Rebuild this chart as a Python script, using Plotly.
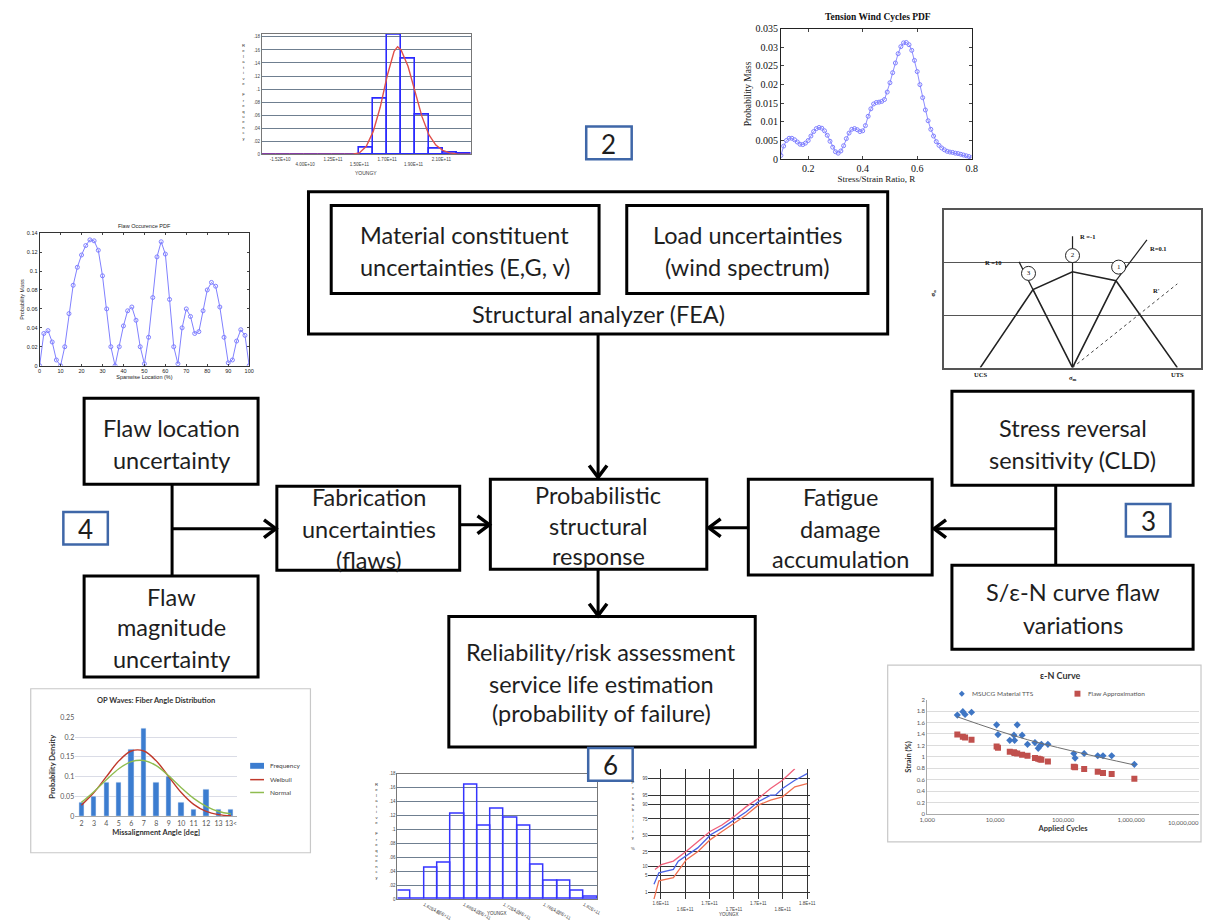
import plotly.graph_objects as go
from statistics import NormalDist

W, H = 1208, 922

# ======================= DATA =======================
# (A) Young's modulus histogram (top-left inset)
young_bin = [0.5, 1.5, 2.5, 3.5, 4.5, 5.5, 6.5, 7.5, 8.5, 9.5, 10.5, 11.5, 12.5, 13.5, 14.5]
young_freq = [0, 0, 0, 0, 0, 0, 0, 0.0105, 0.085, 0.183, 0.1465, 0.06, 0.009, 0.003, 0.0015]
young_fit_x = [0, 6.5, 7, 7.5, 8, 8.5, 9, 9.5, 9.75, 10, 10.5, 11, 11.5, 12, 12.5, 13, 13.5, 14, 15]
young_fit_y = [0, 0, 0.002, 0.012, 0.035, 0.072, 0.12, 0.158, 0.165, 0.16, 0.135, 0.095, 0.058,
               0.03, 0.014, 0.006, 0.002, 0.0005, 0]
young_tickvals = [1.3, 3.1, 5.1, 7.0, 9.0, 10.9, 12.9]
young_ticktext = ["-1.52E+10", "<br>4.00E+10", "1.25E+11", "<br>1.50E+11", "1.70E+11", "<br>1.90E+11", "2.10E+11"]
young_yvals = [0, 0.02, 0.04, 0.06, 0.08, 0.10, 0.12, 0.14, 0.16, 0.18]
young_ylabels = ["0", ".02", ".04", ".06", ".08", ".1", ".12", ".14", ".16", ".18"]

# (B) Tension wind cycles PDF (top-right inset)
wind_R = [0.10, 0.11, 0.12, 0.13, 0.14, 0.15, 0.16, 0.17, 0.18, 0.19, 0.20, 0.21, 0.22, 0.23, 0.24,
          0.25, 0.26, 0.27, 0.28, 0.29, 0.30, 0.31, 0.32, 0.33, 0.34, 0.35, 0.36, 0.37, 0.38, 0.39,
          0.40, 0.41, 0.42, 0.43, 0.44, 0.45, 0.46, 0.47, 0.48, 0.49, 0.50, 0.51, 0.52, 0.53, 0.54,
          0.55, 0.56, 0.57, 0.58, 0.59, 0.60, 0.61, 0.62, 0.63, 0.64, 0.65, 0.66, 0.67, 0.68, 0.69,
          0.70, 0.71, 0.72, 0.73, 0.74, 0.75, 0.76, 0.77, 0.78, 0.79, 0.80]
wind_P = [0.0010, 0.0035, 0.0050, 0.0056, 0.0056, 0.0052, 0.0046, 0.0040, 0.0039, 0.0043, 0.0050,
          0.0062, 0.0074, 0.0082, 0.0085, 0.0083, 0.0076, 0.0064, 0.0048, 0.0032, 0.0020, 0.0016,
          0.0022, 0.0036, 0.0055, 0.0070, 0.0080, 0.0082, 0.0079, 0.0074, 0.0076, 0.0090, 0.0115,
          0.0135, 0.0148, 0.0152, 0.0153, 0.0155, 0.0160, 0.0180, 0.0205, 0.0232, 0.0258, 0.0283,
          0.0302, 0.0312, 0.0313, 0.0307, 0.0292, 0.0265, 0.0235, 0.0200, 0.0165, 0.0132, 0.0103,
          0.0080, 0.0062, 0.0047, 0.0037, 0.0030, 0.0025, 0.0021, 0.0019, 0.0018, 0.0016, 0.0015,
          0.0013, 0.0011, 0.0009, 0.0007, 0.0004]
wind_yvals = [0, 0.005, 0.01, 0.015, 0.02, 0.025, 0.03, 0.035]
wind_ylabels = ["0", "0.005", "0.01", "0.015", "0.02", "0.025", "0.03", "0.035"]

# (C) Flaw occurrence PDF (left inset)
flaw_loc = [0, 2, 4, 6, 8, 10, 12, 14, 16, 18, 20, 22, 24, 26, 28, 30, 32, 34, 36, 38, 40, 42, 44,
            46, 48, 50, 52, 54, 56, 58, 60, 62, 64, 66, 68, 70, 72, 74, 76, 78, 80, 82, 84, 86, 88,
            90, 92, 94, 96, 98, 100]
flaw_pm = [0.000, 0.034, 0.037, 0.025, 0.006, 0.000, 0.020, 0.055, 0.085, 0.104, 0.117, 0.127, 0.133,
           0.132, 0.122, 0.095, 0.060, 0.020, 0.000, 0.020, 0.042, 0.058, 0.062, 0.048, 0.020, 0.002,
           0.030, 0.072, 0.115, 0.131, 0.118, 0.070, 0.020, 0.002, 0.040, 0.060, 0.052, 0.034, 0.036,
           0.058, 0.080, 0.088, 0.084, 0.062, 0.030, 0.003, 0.006, 0.026, 0.038, 0.032, 0.000]
flaw_yvals = [0, 0.02, 0.04, 0.06, 0.08, 0.10, 0.12, 0.14]
flaw_ylabels = ["0", "0.02", "0.04", "0.06", "0.08", "0.1", "0.12", "0.14"]

# (D) Constant life diagram (right inset), normalised stress units
cld_ucs = -0.88
cld_uts = 1.0
cld_mean = [-0.377, 0.0, 0.415]          # points 3, 2, 1
cld_amp = [0.745, 0.915, 0.83]
cld_labels = ["3", "2", "1"]
cld_circle_m = [-0.42, 0.0, 0.44]
cld_circle_a = [0.90, 1.07, 0.96]
ray_end_m = [-0.51, 0.0, 0.71]
ray_end_a = [1.01, 1.255, 1.22]
rprime_end = [1.0, 0.80]

# (E) OP waves fiber angle distribution
op_angle = ["2", "3", "4", "5", "6", "7", "8", "9", "10", "11", "12", "13", "13<"]
op_freq = [0.034, 0.05, 0.085, 0.085, 0.17, 0.222, 0.085, 0.10, 0.034, 0.017, 0.068, 0.017, 0.017]
op_weibull = [0.028, 0.06, 0.10, 0.14, 0.165, 0.165, 0.14, 0.10, 0.06, 0.03, 0.012, 0.004, 0.001]
op_normal = [0.035, 0.062, 0.092, 0.12, 0.138, 0.141, 0.128, 0.102, 0.072, 0.045, 0.025, 0.012, 0.006]

# (F) e-N curve
en_cycles = [2773, 3342, 3607, 4487, 10500, 11000, 16400, 18900, 19300, 21100, 24900, 29900,
             38500, 43000, 45400, 47900, 59700, 143600, 150000, 204000, 323000, 386000, 518000, 1117000]
en_msucg = [1.73, 1.79, 1.74, 1.78, 1.56, 1.39, 1.29, 1.38, 1.29, 1.56, 1.38, 1.22,
            1.25, 1.15, 1.19, 1.22, 1.22, 1.06, 0.98, 1.06, 1.02, 1.02, 1.02, 0.87]
en_flaw = [1.39, 1.35, 1.34, 1.30, 1.18, 1.16, 1.09, 1.08, 1.07, 1.06, 1.04, 1.02,
           0.98, 0.97, 0.96, 0.95, 0.92, 0.83, 0.82, 0.79, 0.74, 0.72, 0.70, 0.62]
en_trend_cycles = [2773, 30000, 1117000]
en_trend_strain = [1.70, 1.30, 0.86]
en_xticks = [1e3, 1e4, 1e5, 1e6, 1e7]
en_xlabels = ["1,000", "10,000", "100,000", "1,000,000", "10,000,000"]
en_yvals = [0, 0.2, 0.4, 0.6, 0.8, 1.0, 1.2, 1.4, 1.6, 1.8, 2.0]
en_ylabels = ["0", "0.2", "0.4", "0.6", "0.8", "1", "1.2", "1.4", "1.6", "1.8", "2"]

# (G) bottom histogram
hist2_bin = [0.5, 1.5, 2.5, 3.5, 4.5, 5.5, 6.5, 7.5, 8.5, 9.5, 10.5, 11.5, 12.5, 13.5, 14.5]
hist2_freq = [0.012, 0, 0.045, 0.053, 0.123, 0.164, 0.105, 0.13, 0.117, 0.105, 0.049, 0.027, 0.027, 0.012, 0.004]
hist2_tickvals = [2.0, 3.0, 5.0, 6.0, 8.0, 9.0, 11.0, 12.0, 14.0]
hist2_ticktext = ["1.62E+11", "<br>1.65E+11", "1.68E+11", "<br>1.70E+11", "1.72E+11",
                  "<br>1.74E+11", "1.76E+11", "<br>1.78E+11", "1.82E+11"]

# (H) probability plot
prob_levels = [1, 5, 10, 25, 50, 75, 90, 95, 99]
pp_blue_x = [0.45, 0.85, 2.04, 2.44, 4.03, 5.09, 6.02, 7.0, 8.01, 8.99, 10.0, 10.4, 10.98, 11.99, 13.0]
pp_blue_z = [-2.0, -1.53, -1.39, -1.05, -0.51, 0.03, 0.30, 0.64, 0.97, 1.38, 1.65, 1.65, 1.92, 2.26, 2.53]
pp_up_x = [0.53, 1.06, 2.04, 3.1, 4.08, 5.04, 6.02, 7.0, 8.01, 8.99, 10.0, 10.98, 11.99]
pp_up_z = [-1.39, -1.19, -1.05, -0.65, -0.24, 0.16, 0.43, 0.77, 1.18, 1.51, 1.92, 2.26, 2.73]
pp_lo_x = [0.45, 0.85, 2.04, 3.1, 4.08, 5.04, 6.02, 7.0, 8.01, 8.99, 10.0, 10.98, 11.99, 13.0]
pp_lo_z = [-2.61, -1.86, -1.73, -0.99, -0.65, -0.18, 0.16, 0.5, 0.84, 1.24, 1.45, 1.58, 1.99, 2.12]

# ======================= FIGURE =======================
fig = go.Figure()
ann = []
shapes = []
layout = {}


def dx(a, b):
    return [a / W, b / W]


def dy(top, bottom):
    return [1 - bottom / H, 1 - top / H]


# base canvas (pixel coordinates)
fig.add_trace(go.Scatter(x=[0, W], y=[0, H], mode="markers", marker=dict(opacity=0),
                         showlegend=False, hoverinfo="skip", xaxis="x", yaxis="y"))
layout["xaxis"] = dict(domain=[0, 1], range=[0, W], visible=False, fixedrange=True)
layout["yaxis"] = dict(domain=[0, 1], range=[H, 0], visible=False, fixedrange=True)

BOXFONT = "Lato, 'Open Sans', sans-serif"


def box(x0, y0, x1, y1, color="black", w=3):
    shapes.append(dict(type="rect", xref="x", yref="y", x0=x0, y0=y0, x1=x1, y1=y1,
                       line=dict(color=color, width=w), fillcolor="rgba(0,0,0,0)", layer="above"))


def line(x0, y0, x1, y1, w=3, color="black"):
    shapes.append(dict(type="line", xref="x", yref="y", x0=x0, y0=y0, x1=x1, y1=y1,
                       line=dict(color=color, width=w), layer="above"))


def chevron(tx, ty, direction):
    s = 9
    d = 12
    if direction == "down":
        p = f"M {tx-s},{ty-d} L {tx},{ty} L {tx+s},{ty-d}"
    elif direction == "right":
        p = f"M {tx-d},{ty-s} L {tx},{ty} L {tx-d},{ty+s}"
    else:
        p = f"M {tx+d},{ty-s} L {tx},{ty} L {tx+d},{ty+s}"
    shapes.append(dict(type="path", xref="x", yref="y", path=p,
                       line=dict(color="black", width=3.5), layer="above"))


def txt(x, y, s, size=23.5, family=BOXFONT, color="#1e1e1e", ref=("x", "y"), **kw):
    d = dict(x=x, y=y, xref=ref[0], yref=ref[1], text=s, showarrow=False,
             font=dict(family=family, size=size, color=color), xanchor="center", yanchor="middle")
    d.update(kw)
    ann.append(d)


# ---- flowchart boxes ----
box(304, 189, 890, 333)
box(327, 203, 598, 292)
box(626, 203, 870, 292)
box(488, 480, 707, 571)
box(446, 619, 756, 751)
box(272, 487, 457, 572)
box(749, 480, 935, 577)
box(77, 398, 253, 485)
box(77, 578, 253, 680)
box(955, 391, 1199, 486)
box(955, 567, 1199, 652)

# connectors
line(597, 333, 597, 476)
chevron(597, 478, "down")
line(597, 571, 597, 616)
chevron(597, 618, "down")
line(457, 526, 485, 526)
chevron(487, 526, "right")
line(749, 529, 711, 529)
chevron(709, 529, "left")
line(166, 485, 166, 578)
line(166, 530, 269, 530)
chevron(271, 530, "right")
line(1060, 486, 1060, 567)
line(1060, 530, 939, 530)
chevron(937, 530, "left")

# numbered tags
for (x0, y0, x1, y1, lab) in [(585, 123, 631, 156, "2"), (1131, 505, 1176, 538, "3"),
                              (56, 513, 101, 546, "4"), (587, 752, 632, 785, "6")]:
    shapes.append(dict(type="rect", xref="x", yref="y", x0=x0, y0=y0, x1=x1, y1=y1,
                       line=dict(color="#3f67a8", width=2.5), fillcolor="white", layer="above"))
    txt((x0 + x1) / 2, (y0 + y1) / 2 + 1, lab, size=26)

# box texts
for (x, y, s) in [
    (462, 233, "Material constituent"), (462, 265, "uncertainties (E,G, v)"),
    (748, 233, "Load uncertainties"), (748, 265, "(wind spectrum)"),
    (597, 313, "Structural analyzer (FEA)"),
    (165, 428, "Flaw location"), (165, 460, "uncertainty"),
    (165, 599, "Flaw"), (165, 630, "magnitude"), (165, 662, "uncertainty"),
    (365, 498, "Fabrication"), (365, 530, "uncertainties"), (365, 562, "(flaws)"),
    (597, 496, "Probabilistic"), (597, 527, "structural"), (597, 558, "response"),
    (842, 498, "Fatigue"), (842, 530, "damage"), (842, 561, "accumulation"),
    (1077, 428, "Stress reversal"), (1077, 460, "sensitivity (CLD)"),
    (1077, 594, "S/\u03b5-N curve flaw"), (1077, 627, "variations"),
    (600, 655, "Reliability/risk assessment"), (600, 687, "service life estimation"),
    (600, 717, "(probability of failure)"),
]:
    txt(x, y, s)

# ================= (A) Young's modulus histogram =================
fig.add_trace(go.Bar(x=young_bin, y=young_freq, width=1, marker=dict(color="rgba(0,0,0,0)",
              line=dict(color="#2a2aff", width=1.6)), showlegend=False, xaxis="x2", yaxis="y2"))
fig.add_trace(go.Scatter(x=young_fit_x, y=young_fit_y, mode="lines", line=dict(color="#e0504a", width=1.4),
                         showlegend=False, xaxis="x2", yaxis="y2"))
tickf = dict(family="Liberation Sans", size=4.5, color="#444")
layout["xaxis2"] = dict(domain=dx(257, 468), anchor="y2", range=[0, 15], showgrid=False, zeroline=False,
                        showline=True, mirror=True, linecolor="#777", linewidth=1,
                        tickvals=young_tickvals, ticktext=young_ticktext, tickfont=tickf, ticks="")
layout["yaxis2"] = dict(domain=dy(29, 151), anchor="x2", range=[0, 0.185], tickvals=young_yvals,
                        ticktext=young_ylabels, tickfont=tickf, showgrid=True, gridcolor="#6f7f90",
                        gridwidth=1, zeroline=False, showline=True, mirror=True, linecolor="#777")
txt(362, 170, "YOUNGY", size=5, family="Liberation Sans", color="#333")
txt(238, 88, "<br>".join(list("Relative Frequency")), size=4.2, family="Liberation Sans", color="#333")

# ================= (B) Tension wind cycles =================
fig.add_trace(go.Scatter(x=wind_R, y=wind_P, mode="lines+markers",
                         line=dict(color="#8d8dff", width=1),
                         marker=dict(symbol="circle-open", size=4, color="#8080ff", line=dict(width=1)),
                         showlegend=False, xaxis="x3", yaxis="y3"))
serif = dict(family="Liberation Serif", size=10, color="#111")
layout["xaxis3"] = dict(domain=dx(782, 975), anchor="y3", range=[0.1, 0.8], tickvals=[0.2, 0.4, 0.6, 0.8],
                        ticks="inside", ticklen=3, showline=True, mirror="ticks", linecolor="#222",
                        linewidth=1, showgrid=False, zeroline=False, tickfont=serif,
                        title=dict(text="Stress/Strain Ratio, R", font=dict(family="Liberation Serif", size=9, color="#111"), standoff=0))
layout["yaxis3"] = dict(domain=dy(24, 156), anchor="x3", range=[0, 0.035], tickvals=wind_yvals,
                        ticktext=wind_ylabels, ticks="inside", ticklen=3, showline=True, mirror="ticks",
                        linecolor="#222", linewidth=1, showgrid=False, zeroline=False, tickfont=serif,
                        title=dict(text="Probability Mass", font=dict(family="Liberation Serif", size=9.5, color="#111"), standoff=2))
txt(880, 12, "<b>Tension Wind Cycles PDF</b>", size=9.5, family="Liberation Serif", color="#111")

# ================= (C) Flaw occurrence PDF =================
fig.add_trace(go.Scatter(x=flaw_loc, y=flaw_pm, mode="lines+markers",
                         line=dict(color="#8080ff", width=1),
                         marker=dict(symbol="circle-open", size=4, color="#8080ff", line=dict(width=1)),
                         showlegend=False, xaxis="x4", yaxis="y4"))
sm = dict(family="Liberation Sans", size=5.5, color="#222")
layout["xaxis4"] = dict(domain=dx(32, 244), anchor="y4", range=[0, 100], dtick=10, ticks="inside",
                        ticklen=2, showline=True, mirror="ticks", linecolor="#333", linewidth=1,
                        showgrid=False, zeroline=False, tickfont=sm,
                        title=dict(text="Spanwise Location (%)", font=sm, standoff=0))
layout["yaxis4"] = dict(domain=dy(231, 365), anchor="x4", range=[0, 0.14], tickvals=flaw_yvals,
                        ticktext=flaw_ylabels, ticks="inside", ticklen=2, showline=True, mirror="ticks",
                        linecolor="#333", linewidth=1, showgrid=False, zeroline=False, tickfont=sm,
                        title=dict(text="Probability Mass", font=sm, standoff=1))
txt(138, 224, "Flaw Occurence PDF", size=5.5, family="Liberation Sans", color="#222")

# ================= (D) Constant life diagram =================
cl = dict(color="#222", width=1.6)
fig.add_trace(go.Scatter(x=[cld_ucs] + cld_mean + [cld_uts], y=[0] + cld_amp + [0], mode="lines",
                         line=cl, showlegend=False, xaxis="x5", yaxis="y5"))
fig.add_trace(go.Scatter(x=[cld_mean[0], 0, cld_mean[2]], y=[cld_amp[0], 0, cld_amp[2]], mode="lines",
                         line=cl, showlegend=False, xaxis="x5", yaxis="y5"))
for i in range(3):
    fig.add_trace(go.Scatter(x=[cld_mean[i] if i != 1 else 0, ray_end_m[i]],
                             y=[cld_amp[i] if i != 1 else 0, ray_end_a[i]], mode="lines",
                             line=dict(color="#222", width=1.2), showlegend=False, xaxis="x5", yaxis="y5"))
fig.add_trace(go.Scatter(x=[0, rprime_end[0]], y=[0, rprime_end[1]], mode="lines",
                         line=dict(color="#444", width=1, dash="dot"), showlegend=False,
                         xaxis="x5", yaxis="y5"))
fig.add_trace(go.Scatter(x=cld_circle_m, y=cld_circle_a, mode="markers+text", text=cld_labels,
                         textfont=dict(family="Liberation Serif", size=7, color="#111"),
                         marker=dict(symbol="circle", size=14, color="white", line=dict(color="#222", width=1)),
                         showlegend=False, xaxis="x5", yaxis="y5"))
layout["xaxis5"] = dict(domain=dx(947, 1207), anchor="y5", range=[-1.226, 1.226], showgrid=False,
                        zeroline=False, showticklabels=False, ticks="", showline=True, mirror=True,
                        linecolor="#555", linewidth=1.5)
layout["yaxis5"] = dict(domain=dy(207, 367), anchor="x5", range=[0, 1.51], tickvals=[0.5, 1.0],
                        showgrid=True, gridcolor="#555", gridwidth=1, zeroline=False, showticklabels=False,
                        ticks="", showline=True, mirror=True, linecolor="#555", linewidth=1.5)
bold6 = "Liberation Serif"
for (x, y, s) in [(-0.75, 1.0, "<b>R =10</b>"), (0.14, 1.255, "<b>R =-1</b>"), (0.82, 1.14, "<b>R=0.1</b>"),
                  (0.80, 0.74, "<b>R'</b>")]:
    txt(x, y, s, size=6.5, family=bold6, color="#111", ref=("x5", "y5"))
for (x, y, s) in [(984, 374, "<b>UCS</b>"), (1183, 374, "<b>UTS</b>"), (1077, 377, "<b>\u03c3<sub>m</sub></b>")]:
    txt(x, y, s, size=6.5, family=bold6, color="#111")
txt(935, 292, "<b>\u03c3<sub>a</sub></b>", size=7, family=bold6, color="#111", textangle=-90)

# ================= (E) OP waves =================
shapes.append(dict(type="rect", xref="x", yref="y", x0=23, y0=692, x1=306, y1=858,
                   line=dict(color="#c8c8c8", width=1.2), fillcolor="white", layer="below"))
fig.add_trace(go.Bar(x=op_angle, y=op_freq, name="Frequency", marker=dict(color="#3c7dd0"), width=0.42,
                     xaxis="x6", yaxis="y6", showlegend=False))
fig.add_trace(go.Scatter(x=op_angle, y=op_weibull, name="Weibull", mode="lines",
                         line=dict(color="#c0392b", width=1.4, shape="spline"),
                         xaxis="x6", yaxis="y6", showlegend=False))
fig.add_trace(go.Scatter(x=op_angle, y=op_normal, name="Normal", mode="lines",
                         line=dict(color="#8fbc4f", width=1.4, shape="spline"),
                         xaxis="x6", yaxis="y6", showlegend=False))
xl = dict(family="Lato", size=7, color="#555")
layout["xaxis6"] = dict(domain=dx(68, 232), anchor="y6", type="category", showgrid=False, zeroline=False,
                        showline=True, linecolor="#aaa", linewidth=1, ticks="", tickfont=xl,
                        title=dict(text="<b>Missalignment Angle [deg]</b>", font=dict(family="Lato", size=7.5, color="#333"), standoff=4))
layout["yaxis6"] = dict(domain=dy(721, 821), anchor="x6", range=[0, 0.25], showgrid=True,
                        gridcolor="#dadce6", zeroline=False, tickfont=xl,
                        tickvals=[0, 0.05, 0.1, 0.15, 0.2, 0.25], ticktext=["0", "0.05", "0.1", "0.15", "0.2", "0.25"],
                        title=dict(text="<b>Probability Density</b>", font=dict(family="Lato", size=7.5, color="#333"), standoff=3))
txt(150, 704, "<b>OP Waves: Fiber Angle Distribution</b>", size=7.5, family="Lato", color="#333")
# legend (manual)
shapes.append(dict(type="rect", xref="x", yref="y", x0=245, y0=767, x1=259, y1=773,
                   line=dict(width=0), fillcolor="#3c7dd0", layer="above"))
line(245, 784, 259, 784, w=1.5, color="#c0392b")
line(245, 797, 259, 797, w=1.5, color="#8fbc4f")
for (y, s) in [(770, "Frequency"), (784, "Weibull"), (797, "Normal")]:
    txt(263, y, s, size=6.5, family="Lato", color="#444", xanchor="left")

# ================= (F) e-N curve =================
shapes.append(dict(type="rect", xref="x", yref="y", x0=890, y0=668, x1=1207, y1=847,
                   line=dict(color="#c8c8c8", width=1.2), fillcolor="white", layer="below"))
fig.add_trace(go.Scatter(x=en_cycles, y=en_msucg, name="MSUCG Material TTS", mode="markers",
                         marker=dict(symbol="diamond", size=5.5, color="#3f76c4"),
                         xaxis="x7", yaxis="y7", showlegend=False))
fig.add_trace(go.Scatter(x=en_cycles, y=en_flaw, name="Flaw Approximation", mode="markers",
                         marker=dict(symbol="square", size=6, color="#c0504d"),
                         xaxis="x7", yaxis="y7", showlegend=False))
fig.add_trace(go.Scatter(x=en_trend_cycles, y=en_trend_strain, mode="lines",
                         line=dict(color="#6f6f6f", width=1, shape="spline"),
                         showlegend=False, xaxis="x7", yaxis="y7"))
ef = dict(family="Lato", size=6, color="#555")
layout["xaxis7"] = dict(domain=dx(930, 1205), anchor="y7", type="log", range=[3, 7], tickvals=en_xticks[:4],
                        ticktext=en_xlabels[:4], showgrid=False, zeroline=False, showline=True, linecolor="#aaa",
                        ticks="", tickfont=ef,
                        title=dict(text="<b>Applied Cycles</b>", font=dict(family="Lato", size=7.5, color="#333"), standoff=3))
layout["yaxis7"] = dict(domain=dy(703, 819), anchor="x7", range=[0, 2], tickvals=en_yvals, ticktext=en_ylabels,
                        showgrid=True, gridcolor="#dcdcdc", zeroline=False, showline=True, linecolor="#aaa",
                        tickfont=ef,
                        title=dict(text="<b>Strain (%)</b>", font=dict(family="Lato", size=7.5, color="#333"), standoff=3))
txt(1207, 827, en_xlabels[4], size=6, family="Lato", color="#555", xanchor="right")
txt(1065, 679, "<b>\u03b5-N Curve</b>", size=9, family="Lato", color="#333")
# legend (manual)
shapes.append(dict(type="path", xref="x", yref="y", path="M 965,694 L 968,697 L 965,700 L 962,697 Z",
                   line=dict(width=0), fillcolor="#3f76c4", layer="above"))
shapes.append(dict(type="rect", xref="x", yref="y", x0=1079, y0=694, x1=1085, y1=700,
                   line=dict(width=0), fillcolor="#c0504d", layer="above"))
txt(973, 697, "MSUCG Material TTS", size=6.5, family="Lato", color="#555", xanchor="left")
txt(1091, 697, "Flaw Approximation", size=6.5, family="Lato", color="#555", xanchor="left")

# ================= (G) bottom histogram =================
fig.add_trace(go.Bar(x=hist2_bin, y=hist2_freq, width=1, marker=dict(color="rgba(0,0,0,0)",
              line=dict(color="#3535ff", width=1.5)), showlegend=False, xaxis="x8", yaxis="y8"))
layout["xaxis8"] = dict(domain=dx(394, 596), anchor="y8", range=[0, 15], showgrid=False, zeroline=False,
                        showline=True, mirror=True, linecolor="#777", tickvals=hist2_tickvals,
                        ticktext=hist2_ticktext, tickfont=tickf, ticks="")
layout["yaxis8"] = dict(domain=dy(778, 905), anchor="x8", range=[0, 0.18], tickvals=young_yvals,
                        ticktext=young_ylabels, tickfont=tickf, showgrid=True, gridcolor="#6f7f90",
                        zeroline=False, showline=True, mirror=True, linecolor="#777")
txt(495, 919, "YOUNGX", size=4.5, family="Liberation Sans", color="#333")
txt(373, 836, "<br>".join(list("Relative Frequency")), size=4.2, family="Liberation Sans", color="#333")

# ================= (H) probability plot =================
nd = NormalDist()
prob_z = [nd.inv_cdf(p / 100) for p in prob_levels]
fig.add_trace(go.Scatter(x=pp_up_x, y=pp_up_z, mode="lines", line=dict(color="#f0607a", width=1.3),
                         showlegend=False, xaxis="x9", yaxis="y9"))
fig.add_trace(go.Scatter(x=pp_lo_x, y=pp_lo_z, mode="lines", line=dict(color="#f07050", width=1.3),
                         showlegend=False, xaxis="x9", yaxis="y9"))
fig.add_trace(go.Scatter(x=pp_blue_x, y=pp_blue_z, mode="lines", line=dict(color="#4a63e6", width=1.3),
                         showlegend=False, xaxis="x9", yaxis="y9"))
layout["xaxis9"] = dict(domain=dx(648, 811), anchor="y9", range=[0, 13.2], dtick=1, tick0=0,
                        showgrid=True, gridcolor="#333", gridwidth=1.3, zeroline=False,
                        showticklabels=True, tickvals=[1, 3, 5, 7, 9, 11, 13],
                        ticktext=["1.6E+11", "<br>1.6E+11", "1.7E+11", "<br>1.7E+11", "1.7E+11", "<br>1.8E+11", "1.8E+11"],
                        tickfont=tickf, ticks="")
layout["yaxis9"] = dict(domain=dy(773, 905), anchor="x9", range=[-2.61, 2.73], tickvals=prob_z,
                        ticktext=[str(p) for p in prob_levels], showgrid=True, gridcolor="#333",
                        gridwidth=1.3, zeroline=False, tickfont=tickf, ticks="")
txt(729, 920, "YOUNGX", size=4.5, family="Liberation Sans", color="#333")
txt(632, 820, "<br>".join(list("Probability")) + "<br><br>%", size=4.2, family="Liberation Sans", color="#333")

layout.update(dict(width=W, height=H, margin=dict(l=0, r=0, t=0, b=0), paper_bgcolor="white",
                   plot_bgcolor="rgba(0,0,0,0)", shapes=shapes, annotations=ann, bargap=0,
                   showlegend=False))
fig.update_layout(**layout)
fig.write_html("out.html")
